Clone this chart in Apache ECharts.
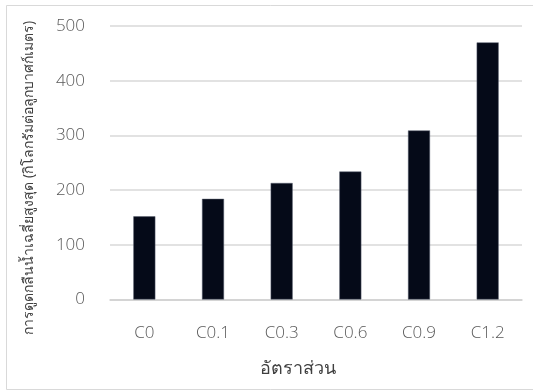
<!DOCTYPE html>
<html>
<head>
<meta charset="utf-8">
<script src="https://cdn.jsdelivr.net/npm/echarts@6/dist/echarts.min.js"></script>
<style>
  html, body { margin: 0; padding: 0; background: #fff; }
  #chart { width: 533px; height: 391px; }
</style>
</head>
<body>
<div id="chart"></div>
<script>
// Mix ratios and their average maximum water absorption (kg/m³)
const categories = ['C0', 'C0.1', 'C0.3', 'C0.6', 'C0.9', 'C1.2'];
const absorption = [152, 184, 213, 234, 309, 470];
const yTicks = [0, 100, 200, 300, 400, 500];

const xTitle = 'อัตราส่วน';
const yTitle = 'การดูดกลืนน้ำเฉลี่ยสูงสุด (กิโลกรัมต่อลูกบาศก์เมตร)';

const fontFamily = '"Open Sans", "Noto Sans", "DejaVu Sans", sans-serif';
const labelColor = '#595959';

const chart = echarts.init(document.getElementById('chart'), null, { renderer: 'canvas' });

chart.setOption({
  backgroundColor: '#ffffff',
  animation: false,
  textStyle: { fontFamily: fontFamily },
  graphic: [{
    type: 'rect',
    silent: true,
    shape: { x: 6.5, y: 5.5, width: 540, height: 384 },
    style: { fill: 'none', stroke: '#d9d9d9', lineWidth: 1 }
  }],
  grid: { left: 110, right: 11, top: 26, bottom: 91.5, containLabel: false },
  xAxis: {
    type: 'category',
    data: categories,
    axisTick: { show: false },
    axisLine: { lineStyle: { color: '#d0d0d0', width: 1.5 } },
    axisLabel: { color: labelColor, fontSize: 17, fontWeight: 300, margin: 25 },
    name: xTitle,
    nameLocation: 'middle',
    nameGap: 60,
    nameTextStyle: { color: '#404040', fontSize: 18, padding: [0, 37, 0, 0] }
  },
  yAxis: {
    type: 'value',
    min: yTicks[0],
    max: yTicks[yTicks.length - 1],
    interval: yTicks[1] - yTicks[0],
    axisLine: { show: false },
    axisTick: { show: false },
    splitLine: { lineStyle: { color: '#d9d9d9', width: 1.5 } },
    axisLabel: { color: labelColor, fontSize: 17, fontWeight: 300, margin: 25 },
    name: yTitle,
    nameLocation: 'middle',
    nameGap: 74,
    nameRotate: 90,
    nameTextStyle: { color: '#404040', fontSize: 14, padding: [0, 0, 0, -30] }
  },
  series: [{
    type: 'bar',
    data: absorption,
    barWidth: 22,
    itemStyle: { color: '#050a18', borderColor: '#5a6070', borderWidth: 0.5 }
  }]
});
</script>
</body>
</html>
